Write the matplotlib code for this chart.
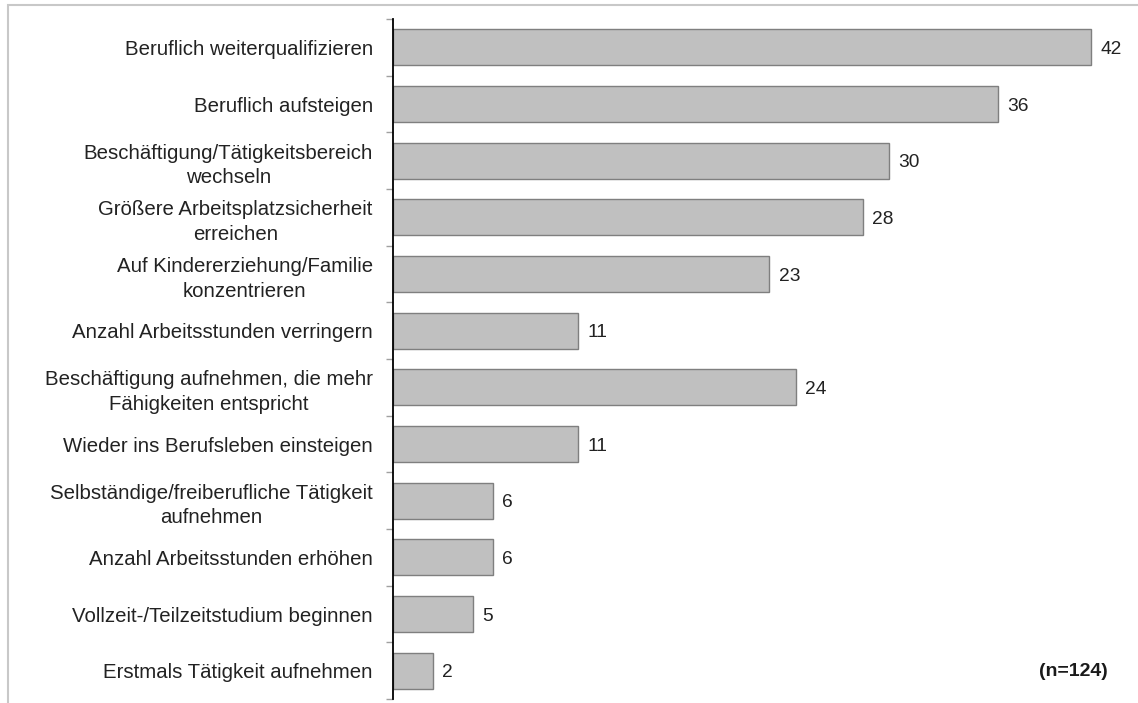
import matplotlib
matplotlib.use("Agg")
import matplotlib.pyplot as plt
from matplotlib.patches import Rectangle
import numpy as np

categories = [
    "Beruflich weiterqualifizieren",
    "Beruflich aufsteigen",
    "Beschäftigung/Tätigkeitsbereich\nwechseln",
    "Größere Arbeitsplatzsicherheit\nerreichen",
    "Auf Kindererziehung/Familie\nkonzentrieren",
    "Anzahl Arbeitsstunden verringern",
    "Beschäftigung aufnehmen, die mehr\nFähigkeiten entspricht",
    "Wieder ins Berufsleben einsteigen",
    "Selbständige/freiberufliche Tätigkeit\naufnehmen",
    "Anzahl Arbeitsstunden erhöhen",
    "Vollzeit-/Teilzeitstudium beginnen",
    "Erstmals Tätigkeit aufnehmen",
]
values = [41.9, 36.3, 29.8, 28.2, 22.6, 11.1, 24.2, 11.1, 6.0, 6.0, 4.8, 2.4]
note = "(n=124)"

plt.rcParams['font.family'] = ['Liberation Sans', 'DejaVu Sans']

W, H = 1138, 703
fig = plt.figure(figsize=(W / 100, H / 100), dpi=100)

ax_left = 393 / W
ax_bottom = (H - 699) / H
ax_top = (H - 19) / H
ax = fig.add_axes([ax_left, ax_bottom, 733 / W, ax_top - ax_bottom])

y = np.arange(len(categories))
ax.barh(y, values, height=0.63, color='#c0c0c0', edgecolor='#7f7f7f', linewidth=1.0)

for yi, v in zip(y, values):
    ax.text(v + 0.55, yi + 0.04, f"{v:.0f}", va='center', ha='left', fontsize=13.8, color='#222222')

ax.set_xlim(0, 44)
ax.set_ylim(len(categories) - 0.5, -0.5)

ax.set_yticks(y)
ax.set_yticklabels(categories, fontsize=14.7, color='#222222', ha='right', multialignment='center',
                   linespacing=1.38)
ax.set_yticks(np.arange(len(categories) + 1) - 0.5, minor=True)
ax.tick_params(axis='y', which='major', length=0, pad=14.5)
ax.tick_params(axis='y', which='minor', length=5, width=1, color='#a0a0a0', direction='out')
ax.set_xticks([])

for s in ['top', 'right', 'bottom']:
    ax.spines[s].set_visible(False)
ax.spines['left'].set_linewidth(1.3)
ax.spines['left'].set_color('black')

fig.text(1108 / W, (H - 671) / H, note, ha='right', va='center', fontsize=14, fontweight='bold',
         color='#1a1a1a')

frame = Rectangle((7.5 / W, -0.2), 2, (H - 5.5) / H + 0.2, transform=fig.transFigure,
                  fill=False, edgecolor='#c8c8c8', linewidth=1.5)
fig.add_artist(frame)

fig.savefig("out.png", dpi=100)
